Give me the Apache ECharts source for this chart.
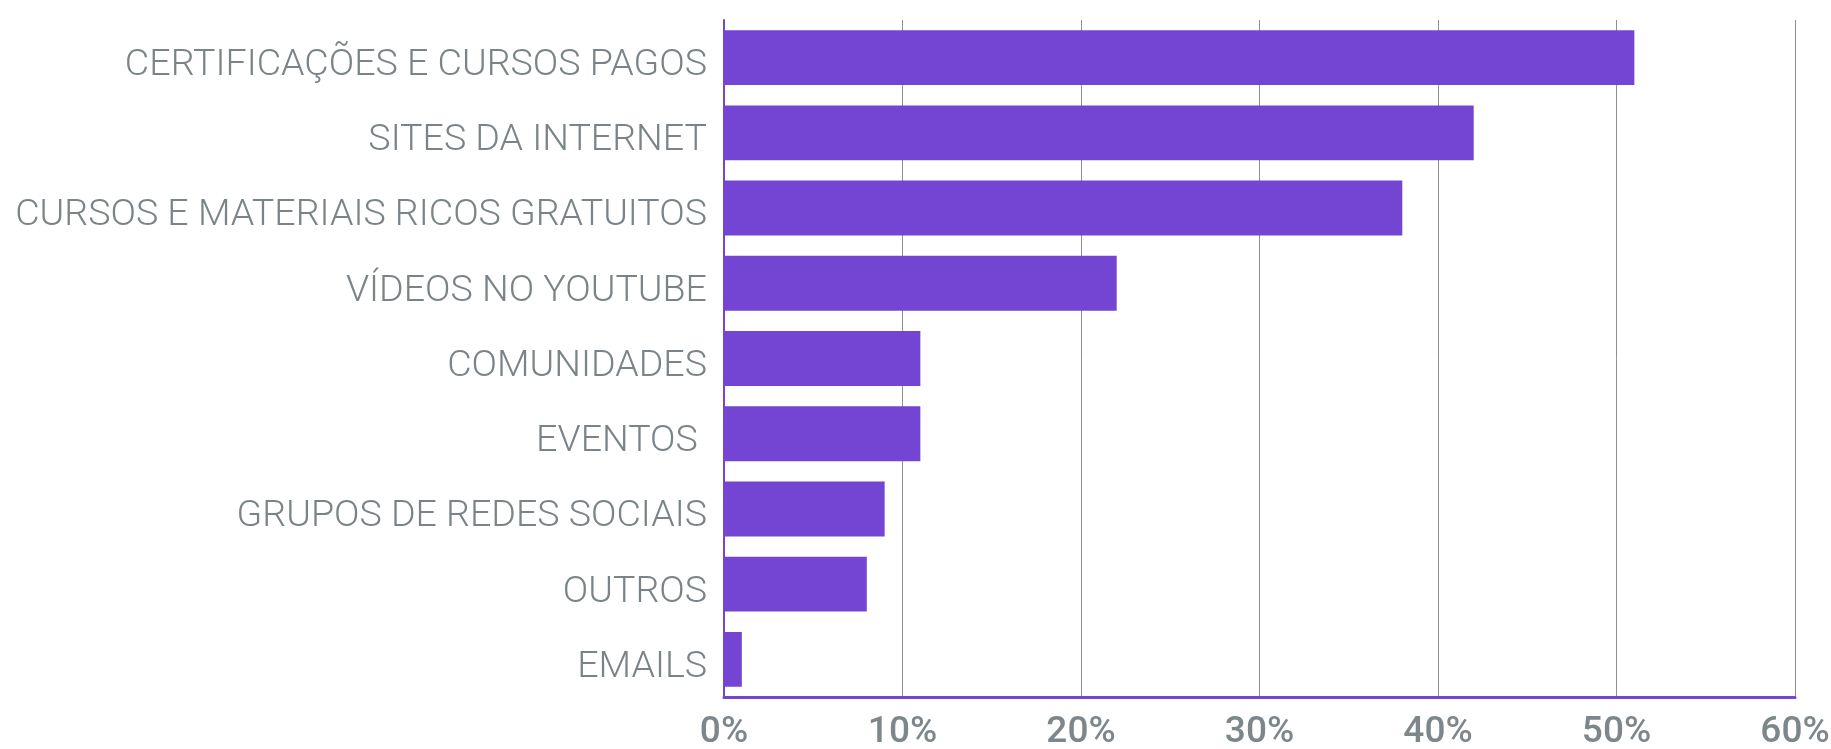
<!DOCTYPE html>
<html>
<head>
<meta charset="utf-8">
<script src="https://cdn.jsdelivr.net/npm/echarts@6/dist/echarts.min.js"></script>
<style>
  html, body { margin: 0; padding: 0; background: #fff; }
  #myChart { width: 1831px; height: 749px; }
</style>
</head>
<body>
<div id="myChart"></div>
<script>
// categorias (de cima para baixo)
var categories = [
  'CERTIFICAÇÕES E CURSOS PAGOS',
  'SITES DA INTERNET',
  'CURSOS E MATERIAIS RICOS GRATUITOS',
  'VÍDEOS NO YOUTUBE',
  'COMUNIDADES',
  'EVENTOS ',
  'GRUPOS DE REDES SOCIAIS',
  'OUTROS',
  'EMAILS'
]
// percentuais
var values = [51, 42, 38, 22, 11, 11, 9, 8, 1]

var myChart = echarts.init(document.getElementById('myChart'))
myChart.setOption({
  animation: false,
  grid: {
    left: 724,
    right: 36,
    top: 20,
    bottom: 52,
    containLabel: false,
    outerBoundsMode: 'none'
  },
  xAxis: {
    type: 'value',
    min: 0,
    max: 60,
    interval: 10,
    axisLine: { show: true, lineStyle: { color: '#7445d2', width: 3 } },
    axisTick: { show: false },
    axisLabel: {
      formatter: '{value}%',
      color: '#7d878b',
      fontFamily: 'Roboto',
      fontWeight: 500,
      fontSize: 37,
      margin: 17
    },
    splitLine: { show: true, lineStyle: { color: '#8f8f8f', width: 1 } }
  },
  yAxis: {
    type: 'category',
    inverse: true,
    data: categories,
    axisLine: { show: true, lineStyle: { color: '#7445d2', width: 2 } },
    axisTick: { show: false },
    axisLabel: {
      color: '#7a8488',
      fontFamily: 'Roboto',
      fontWeight: 300,
      fontSize: 37.6,
      verticalAlign: 'top',
      lineHeight: 16,
      margin: 17
    }
  },
  series: [
    {
      type: 'bar',
      data: values,
      barCategoryGap: '27%',
      itemStyle: { color: '#7445d2' }
    }
  ]
})
</script>
</body>
</html>
